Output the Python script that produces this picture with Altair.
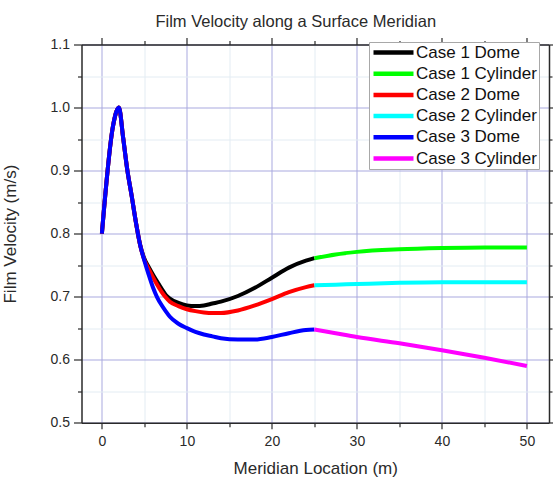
import altair as alt
import pandas as pd

# Series names and line colours
series_names = ["Case 1 Dome", "Case 1 Cylinder", "Case 2 Dome",
                "Case 2 Cylinder", "Case 3 Dome", "Case 3 Cylinder"]
series_colors = ["#000000", "#00ff00", "#ff0000", "#00ffff", "#0000ff", "#ff00ff"]

# Common inlet section shared by all three dome cases
shared_x = [0.0, 1.3, 2.0, 2.5, 3.0, 3.5, 4.0, 4.5]
shared_v = [0.800, 0.970, 1.000, 0.952, 0.900, 0.860, 0.818, 0.782]

# Dome section (after the cases separate)
dome_x = [5.0, 5.5, 6.0, 6.5, 7.0, 7.5, 8, 9, 10, 11, 12, 13, 14, 16, 18, 20, 22, 24, 25]
case1_dome = [0.760, 0.747, 0.735, 0.724, 0.713, 0.703, 0.697, 0.690, 0.686, 0.685,
              0.686, 0.689, 0.692, 0.701, 0.714, 0.730, 0.746, 0.757, 0.761]
case2_dome = [0.758, 0.744, 0.731, 0.719, 0.708, 0.699, 0.692, 0.685, 0.680, 0.677,
              0.675, 0.674, 0.674, 0.678, 0.686, 0.696, 0.707, 0.715, 0.718]
case3_dome = [0.757, 0.735, 0.715, 0.699, 0.687, 0.677, 0.668, 0.657, 0.650, 0.644,
              0.640, 0.637, 0.634, 0.632, 0.632, 0.636, 0.642, 0.647, 0.648]

# Cylinder section
cyl_x = [25, 27.5, 30, 35, 40, 45, 50]
case1_cyl = [0.761, 0.767, 0.771, 0.775, 0.777, 0.778, 0.778]
case2_cyl = [0.718, 0.719, 0.720, 0.722, 0.723, 0.723, 0.723]
case3_cyl = [0.648, 0.642, 0.636, 0.626, 0.615, 0.603, 0.590]

# Axis tick positions (major every 10 m / 0.1 m/s, minor halfway)
x_ticks = [0, 5, 10, 15, 20, 25, 30, 35, 40, 45, 50]
y_ticks = [0.5, 0.55, 0.6, 0.65, 0.7, 0.75, 0.8, 0.85, 0.9, 0.95, 1.0, 1.05, 1.1]

rows = []
# Domes first so that Case 3 sits on top of the shared inlet curve
for name, dome in [("Case 1 Dome", case1_dome), ("Case 2 Dome", case2_dome),
                   ("Case 3 Dome", case3_dome)]:
    for i, (x, v) in enumerate(zip(shared_x + dome_x, shared_v + dome)):
        rows.append({"series": name, "x": x, "v": v, "i": i})
for name, cyl in [("Case 1 Cylinder", case1_cyl), ("Case 2 Cylinder", case2_cyl),
                  ("Case 3 Cylinder", case3_cyl)]:
    for i, (x, v) in enumerate(zip(cyl_x, cyl)):
        rows.append({"series": name, "x": x, "v": v, "i": i})
df = pd.DataFrame(rows)

FONT = "Liberation Sans"
AX = "#2a2a2a"
major_x = "datum.value % 10 === 0"
major_y = "abs(datum.value * 10 - round(datum.value * 10)) < 0.000001"

x_scale = alt.Scale(domain=[-2.4, 52.6], nice=False, zero=False)
y_scale = alt.Scale(domain=[0.5, 1.1], nice=False, zero=False)

lines = alt.Chart(df).mark_line(strokeWidth=4, interpolate="monotone").encode(
    x=alt.X("x:Q", scale=x_scale, axis=alt.Axis(
        orient="bottom", values=x_ticks, title="Meridian Location (m)",
        labelExpr=f"{major_x} ? datum.label : ''", labelOverlap=False, labelFlush=False,
        labelFontSize=14, labelPadding=6, labelColor=AX, labelFont=FONT,
        tickSize={"condition": {"test": major_x, "value": 6}, "value": 4},
        tickColor=AX, tickWidth=1.2, domainColor=AX, domainWidth=1.5,
        grid=True, gridWidth=1,
        gridColor={"condition": {"test": major_x, "value": "#a9a9df"}, "value": "#e3ecf3"},
        titleFontSize=17, titleFontWeight="normal", titleFont=FONT, titleColor=AX,
        titleBaseline="alphabetic", titleY=51)),
    y=alt.Y("v:Q", scale=y_scale, axis=alt.Axis(
        orient="left", values=y_ticks, format=".1f", title="Film Velocity (m/s)",
        labelExpr=f"{major_y} ? datum.label : ''", labelOverlap=False, labelFlush=False,
        labelFontSize=14, labelPadding=4, labelColor=AX, labelFont=FONT,
        tickSize={"condition": {"test": major_y, "value": 8}, "value": 4},
        tickColor=AX, tickWidth=1.2, domainColor=AX, domainWidth=1.5,
        grid=True, gridWidth=1,
        gridColor={"condition": {"test": major_y, "value": "#a9a9df"}, "value": "#e3ecf3"},
        titleFontSize=17, titleFontWeight="normal", titleFont=FONT, titleColor=AX,
        titleAngle=-90, titleBaseline="alphabetic", titleX=-66)),
    color=alt.Color("series:N", scale=alt.Scale(domain=series_names, range=series_colors),
                    legend=alt.Legend(
                        title=None, orient="none", legendX=287.5, legendY=-2.5,
                        symbolType="stroke", symbolSize=1600, symbolStrokeWidth=4.5,
                        labelFontSize=17, labelFont=FONT, labelColor="#111111",
                        labelOffset=0, labelLimit=300, clipHeight=17, rowPadding=3.2,
                        padding=2, fillColor="white", strokeColor="#a8a8a8")),
    detail="series:N",
    order="i:Q",
)

# Mirror axes on the top and right edges (ticks only)
frame = alt.Chart(df).mark_line(opacity=0).encode(
    x=alt.X("x:Q", scale=x_scale, axis=alt.Axis(
        orient="top", values=x_ticks, labels=False, title=None, grid=False,
        tickSize={"condition": {"test": major_x, "value": 7}, "value": 4},
        tickColor=AX, tickWidth=1.2, domainColor=AX, domainWidth=1.5)),
    y=alt.Y("v:Q", scale=y_scale, axis=alt.Axis(
        orient="right", values=y_ticks, labels=False, title=None, grid=False,
        tickSize={"condition": {"test": major_y, "value": 5}, "value": 3},
        tickColor=AX, tickWidth=1.2, domainColor=AX, domainWidth=1.5)),
    detail="series:N",
)

chart = alt.layer(lines, frame).resolve_axis(x="independent", y="independent").properties(
    width=467.5, height=378.2,
    autosize=alt.AutoSizeParams(type="none"),
    padding={"left": 81.5, "top": 44.5, "right": 4, "bottom": 58.3},
    title=alt.TitleParams("Film Velocity along a Surface Meridian", fontSize=16.5,
                          fontWeight="normal", font=FONT, color=AX, dx=-19.5,
                          baseline="alphabetic", offset=-7),
    background="white",
).configure_view(stroke=None)

chart.save("out.html", embed_options={"renderer": "svg", "actions": False})
